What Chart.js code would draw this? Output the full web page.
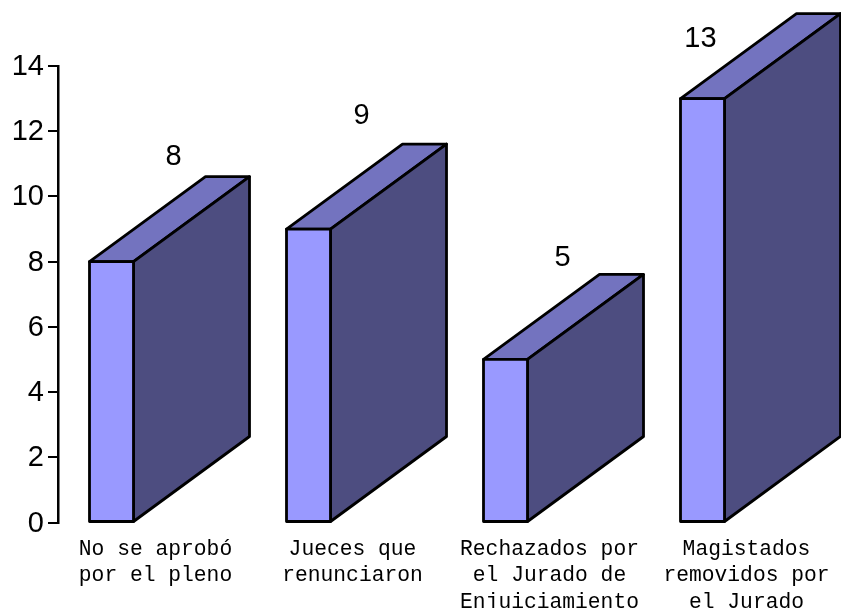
<!DOCTYPE html>
<html>
<head>
<meta charset="utf-8">
<style>
  html, body { margin: 0; background: #fff; }
  canvas { display: block; }
</style>
<script src="https://cdn.jsdelivr.net/npm/chart.js@4"></script>
</head>
<body>
<canvas id="chart" width="841" height="608"></canvas>
<script>
const categories = [
  ['No se aprobó', 'por el pleno'],
  ['Jueces que', 'renunciaron'],
  ['Rechazados por', 'el Jurado de', 'Enjuiciamiento'],
  ['Magistados', 'removidos por', 'el Jurado']
];
const values = [8, 9, 5, 13];
const yTickStep = 2;
const yMax = 14;

// box depth and where each number sits, relative to the top of its bar
const depth = { x: 116, y: -85 };
const labelShift = [[62, -105], [53, -113], [57, -101], [-2, -60]];

const frontColor = '#9999ff';
const topColor = '#7373bf';
const sideColor = '#4d4d80';

function face(ctx, pts, color){
  ctx.beginPath();
  pts.forEach((p, i) => i ? ctx.lineTo(p[0], p[1]) : ctx.moveTo(p[0], p[1]));
  ctx.closePath();
  ctx.fillStyle = color;
  ctx.fill();
  ctx.stroke();
}

const box3d = {
  id: 'box3d',
  // the plot runs a little past the canvas edge, this keeps the category step at 197px
  afterLayout(chart){
    const x = chart.scales.x;
    x.left -= 1;
    x.right += 4;
    x.width += 5;
    x.configure();
  },
  afterDatasetsDraw(chart){
    const ctx = chart.ctx;
    const bars = chart.getDatasetMeta(0).data;
    ctx.save();
    ctx.strokeStyle = '#000';
    ctx.lineWidth = 2.8;
    ctx.lineJoin = 'round';
    bars.forEach((bar, i) => {
      const l = bar.x - bar.width / 2;
      const r = bar.x + bar.width / 2;
      const t = bar.y;
      const b = bar.base;
      face(ctx, [[l, t], [r, t], [r + depth.x, t + depth.y], [l + depth.x, t + depth.y]], topColor);
      face(ctx, [[r, t], [r + depth.x, t + depth.y], [r + depth.x, b + depth.y], [r, b]], sideColor);
      face(ctx, [[l, t], [r, t], [r, b], [l, b]], frontColor);
      ctx.fillStyle = '#000';
      ctx.font = '29px "Liberation Sans"';
      ctx.textAlign = 'center';
      ctx.textBaseline = 'middle';
      ctx.fillText(String(values[i]), bar.x + labelShift[i][0], t + labelShift[i][1]);
    });
    ctx.restore();
  }
};

new Chart(document.getElementById('chart'), {
  type: 'bar',
  data: {
    labels: categories,
    datasets: [
      { data: values, backgroundColor: frontColor, borderWidth: 0 },
      // empty groups push the real bar left of its category label
      { data: [] },
      { data: [] }
    ]
  },
  plugins: [box3d],
  options: {
    responsive: false,
    animation: false,
    barThickness: 44,
    layout: { padding: { top: 66, right: 0, left: 0, bottom: 0 } },
    plugins: { legend: { display: false }, tooltip: { enabled: false } },
    scales: {
      x: {
        afterFit(scale){ scale.height = 85.5; },
        border: { display: false },
        grid: { display: false },
        ticks: {
          color: '#000',
          font: { family: '"Liberation Mono"', size: 21.3, lineHeight: 1.26 },
          maxRotation: 0,
          autoSkip: false,
          padding: 5
        }
      },
      y: {
        min: 0,
        max: yMax,
        afterFit(scale){ scale.width = 58; },
        border: { color: '#000', width: 2.5 },
        grid: { drawOnChartArea: false, color: '#000', lineWidth: 2, tickLength: 10 },
        ticks: {
          stepSize: yTickStep,
          color: '#000',
          font: { family: '"Liberation Sans"', size: 29 },
          labelOffset: 1,
          padding: 4
        }
      }
    }
  }
});
</script>
</body>
</html>
